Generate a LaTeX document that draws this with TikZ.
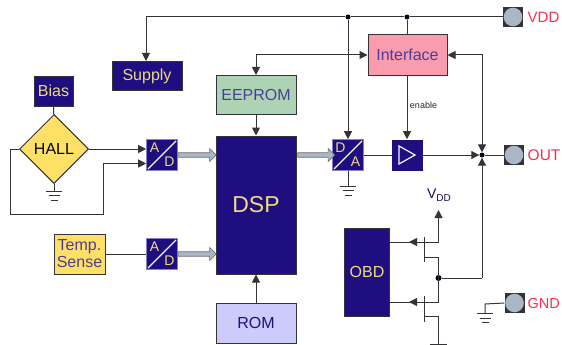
\documentclass[tikz,border=0pt]{standalone}
\usepackage{fontspec}
\setmainfont{Liberation Sans}
\usetikzlibrary{arrows.meta,shapes.geometric,shapes.arrows,calc}
\definecolor{navy}{HTML}{1E0E80}
\definecolor{edgec}{HTML}{333338}
\definecolor{ylw}{HTML}{FFE066}
\definecolor{ylwtxt}{HTML}{F0DC78}
\definecolor{grn}{HTML}{ADD3B4}
\definecolor{pnk}{HTML}{FB9BAE}
\definecolor{lav}{HTML}{CBCBFC}
\definecolor{pad}{HTML}{AAB8C6}
\definecolor{padred}{HTML}{F5304F}
\tikzset{
  x=1pt,y=-1pt,
  wire/.style={draw=edgec,line width=1pt},
  arr/.style={wire,-{Triangle[length=8pt,width=8pt]}},
  arrb/.style={wire,{Triangle[length=8pt,width=8pt]}-{Triangle[length=8pt,width=8pt]}},
  blk/.style={draw=edgec,line width=1pt,inner sep=0pt,font=\fontsize{16}{17}\selectfont,align=center},
  navybox/.style={blk,fill=navy,text=ylwtxt},
  conv/.style={fill=navy,draw=lav!60!navy,line width=.6pt,minimum width=31pt,minimum height=31pt,inner sep=0pt},
  convl/.style={text=ylwtxt,font=\fontsize{14}{14}\selectfont,inner sep=0pt},
  padbox/.style={fill=edgec,minimum width=20pt,minimum height=20pt,inner sep=0pt},
  padl/.style={text=padred,font=\fontsize{15.5}{15.5}\selectfont,anchor=west,inner sep=0pt},
  dot/.style={circle,fill=black!85!navy,minimum size=5pt,inner sep=0pt},
  garrow/.style={single arrow,draw=edgec!70,fill=pad,line width=.7pt,minimum width=13pt,single arrow head extend=2.5pt,single arrow head indent=0pt,inner sep=1pt,shape border rotate=0},
  gbar/.style={draw=edgec,line width=1pt},
}
\newcommand{\grnd}[1]{%
  \draw[gbar] ($(#1)+(-8,0)$) -- ($(#1)+(8,0)$);
  \draw[gbar] ($(#1)+(-5.5,4.5)$) -- ($(#1)+(5.5,4.5)$);
  \draw[gbar] ($(#1)+(-3.5,9)$) -- ($(#1)+(3.5,9)$);}
\newcommand{\padmark}[2]{%
  \node[padbox] (#1) at (#2) {};
  \fill[pad] (#2) circle (9.3pt);}
\newcommand{\convmark}[4]{% name, center, top-left letter, bottom-right letter
  \node[conv] (#1) at (#2) {};
  \draw[white!85!lav,line width=1.1pt] ($(#2)+(-14,14)$) -- ($(#2)+(14,-14)$);
  \node[convl] at ($(#2)+(-7.5,-7)$) {#3};
  \node[convl] at ($(#2)+(7.5,7)$) {#4};}
\begin{document}
\begin{tikzpicture}
\useasboundingbox (0,0) rectangle (562,345);
% blocks
\node[navybox,minimum width=39pt,minimum height=30pt] (bias) at (53.5,91) {Bias};
\node[navybox,minimum width=70pt,minimum height=29pt] (supply) at (147,76) {Supply};
\node[blk,fill=grn,text=navy!80,minimum width=80pt,minimum height=39pt] (eeprom) at (256,95) {EEPROM};
\node[blk,fill=navy,text=ylwtxt,minimum width=80pt,minimum height=138pt,font=\fontsize{23}{25}\selectfont] (dsp) at (256,205) {DSP};
\node[blk,fill=lav,text=navy,minimum width=80pt,minimum height=40pt] (rom) at (256,323) {ROM};
\node[blk,fill=pnk,text=navy!80,minimum width=79pt,minimum height=40pt] (iface) at (407.5,55) {Interface};
\node[blk,fill=ylw,text=navy!80,minimum width=51pt,minimum height=40pt] (temp) at (79.5,254) {Temp.\\Sense};
\node[blk,diamond,aspect=1,fill=ylw,text=black!85!navy,minimum width=69pt,minimum height=69pt] (hall) at (54,149) {HALL};
\node[navybox,minimum width=45pt,minimum height=88pt] (obd) at (367,272) {OBD};
% converters
\convmark{adone}{162,155}{A}{D}
\convmark{adtwo}{162,254}{A}{D}
\convmark{da}{348,155}{D}{A}
% buffer
\node[conv,draw=none] (buf) at (407.5,155) {};
\draw[white!85!lav,line width=1.2pt] (399,146) -- (415,155) -- (399,164) -- cycle;
% pads
\padmark{vdd}{513,17}
\padmark{out}{514,155}
\padmark{gnd}{514.5,303}
\node[padl,font=\fontsize{15}{15}\selectfont] at (527.5,17) {VDD};
\node[padl] at (527.5,155) {OUT};
\node[padl,font=\fontsize{14.5}{14.5}\selectfont] at (527.5,304) {GND};
% junctions
\coordinate (cornerS) at (146,17);
\node[dot] (jda) at (348,17) {};
\node[dot] (jif) at (407,17) {};
\node[dot] (jout) at (482,155) {};
\node[dot,minimum size=6pt] (jm) at (438.5,278) {};
% power
\draw[wire] (jda) -- (cornerS);
\draw[wire] (jda) -- (jif) -- (vdd.west);
\draw[arr] (cornerS) -- (cornerS |- supply.north);
\draw[arr] (jda) -- (jda |- da.north);
\draw[wire] (jif) -- (jif |- iface.north);
% eeprom / interface
\coordinate (cornerE) at (eeprom.north |- iface.west);
\draw[arrb] (eeprom.north) -- (cornerE) -- (iface.west);
\draw[arr] (eeprom) -- (dsp);
\draw[arr] (rom) -- (dsp);
\coordinate (cornerI) at (jout |- iface.east);
\draw[arrb] (iface.east) -- (cornerI) -- (jout);
\draw[arr] (jif |- iface.south) -- (jif |- buf.north);
\node[font=\fontsize{9}{9}\selectfont,text=black!85,inner sep=0pt] at (423.5,105) {enable};
% HALL
\draw[wire] (bias) -- (hall);
\draw[arr] (hall.east) -- (adone.west |- hall.east);
\coordinate (fbA) at (10,149);
\coordinate (fbB) at (10,214);
\coordinate (fbC) at (103,214);
\coordinate (fbD) at (103,163.5);
\draw[wire] (hall.west) -- (fbA) -- (fbB) -- (fbC) -- (fbD);
\draw[arr] (fbD) -- (adone.west |- fbD);
\coordinate (gh) at (54,191);
\draw[wire] (hall.south) -- (gh);
\grnd{gh}
\draw[wire] (temp) -- (adtwo);
% block arrows
\node[garrow,minimum height=38pt] at (196,155) {};
\node[garrow,minimum height=38pt] at (196,254) {};
\node[garrow,minimum height=37pt] at (315,155) {};
% output
\draw[wire] (da) -- (buf);
\draw[arr] (buf) -- (jout);
\draw[wire] (jout) -- (out.west);
\coordinate (ret) at (482,278);
\draw[wire] (jm) -- (ret);
\draw[arr] (ret) -- (jout);
\coordinate (gda) at (348,186);
\draw[wire] (da.south) -- (gda);
\grnd{gda}
% GND pad
\coordinate (gc) at (485,304);
\coordinate (gg) at (485,313.5);
\draw[wire] (gnd.west) -- (gc) -- (gg);
\grnd{gg}
% transistors
\coordinate (gu) at (424,242);
\coordinate (gl) at (424,302);
\coordinate (du) at (438.5,242);
\coordinate (dl) at (438.5,302);
\coordinate (su) at (438.5,257);
\coordinate (sl) at (438.5,316);
\coordinate (bot) at (438.5,344);
\coordinate (top) at (438.5,210);
\draw[wire] (du) -- (obd.east |- du);
\draw[wire] (dl) -- (obd.east |- dl);
\draw[wire,-{Triangle[length=8pt,width=8pt]}] (du) -- (gu) -- (409,242);
\draw[wire,-{Triangle[length=8pt,width=8pt]}] (dl) -- (gl) -- (409,302);
\draw[gbar] (424,237) -- (424,262);
\draw[gbar] (424,296) -- (424,322);
\draw[wire] (424,257) -- (su) -- (dl);
\draw[wire] (424,316) -- (sl) -- (bot);
\draw[gbar] (430,344) -- (447,344);
\draw[arr] (du) -- (top);
\node[text=navy!70!black,inner sep=0pt,font=\fontsize{14}{14}\selectfont] at (439,195) {V\raisebox{-3pt}{\fontsize{10}{10}\selectfont DD}};
\end{tikzpicture}
\end{document}
